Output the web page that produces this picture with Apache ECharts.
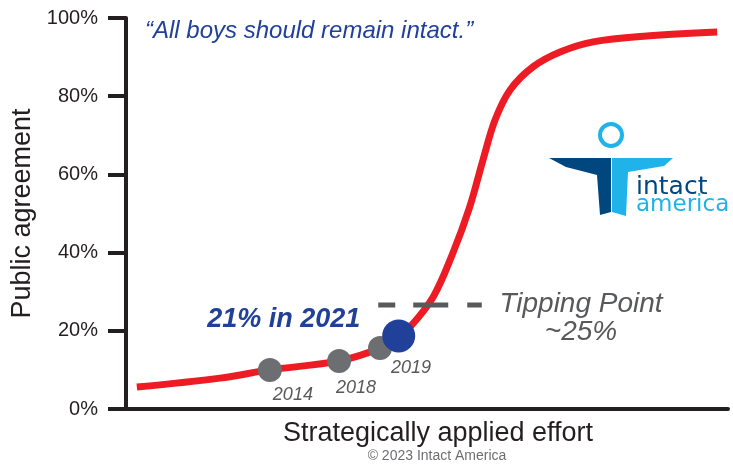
<!DOCTYPE html>
<html>
<head>
<meta charset="utf-8">
<script src="https://cdn.jsdelivr.net/npm/echarts@6/dist/echarts.min.js"></script>
<style>
  html, body { margin: 0; padding: 0; background: #fff; }
  #chart { width: 733px; height: 464px; }
</style>
</head>
<body>
<div id="chart"></div>
<script>
// S-curve of public agreement vs effort (x: effort 0-100, y: %)
var curveX = [1.8, 15.6, 23.9, 35.4, 42.2, 45.3, 47.2, 51.0, 54.3, 57.1, 59.3, 61.3, 63.8, 67.6, 72.1, 77.6, 86.5, 98.2];
var curveY = [5.6, 7.9, 10.0, 12.3, 15.6, 18.7, 21.0, 28.6, 39.9, 51.7, 63.7, 73.9, 81.6, 87.5, 91.3, 93.9, 95.4, 96.4];

// survey milestones sitting on the curve
var milestoneYears = ["2014", "2018", "2019", "2021"];
var milestoneX = [23.9, 35.4, 42.2, 45.3];
var milestoneY = [10.0, 12.3, 15.6, 18.7];
var latestShare = 21;

// tipping point marker
var tippingX = [41.9, 59.1];
var tippingY = [26.6, 26.6];

var yTicks = [0, 20, 40, 60, 80, 100];

var RED = "#ed1c24";
var GRAY = "#6d6e71";
var BLUE = "#21409a";
var INK = "#231f20";
var FONT = "Liberation Sans";

var chart = echarts.init(document.getElementById("chart"));

var curveData = curveX.map(function (x, i) {
  return [x, curveY[i]];
});

var dotData = milestoneX.map(function (x, i) {
  var latest = i === milestoneX.length - 1;
  return {
    value: [x, milestoneY[i]],
    symbolSize: latest ? 33 : 24,
    itemStyle: { color: latest ? BLUE : GRAY, opacity: 1 },
    label: latest
      ? {
          show: true,
          formatter: latestShare + "% in " + milestoneYears[i],
          position: "inside",
          offset: [-115, -16],
          fontSize: 27,
          fontStyle: "italic",
          fontWeight: "bold",
          color: BLUE,
        }
      : {
          show: true,
          formatter: milestoneYears[i],
          position: "inside",
          offset: [[23, 25], [17, 27], [31, 20]][i],
          fontSize: 18,
          fontStyle: "italic",
          color: "#58595b",
        },
  };
});

chart.setOption({
  animation: false,
  textStyle: { fontFamily: FONT },
  grid: {
    left: 126,
    right: 5,
    top: 18,
    bottom: 55,
  },
  xAxis: {
    type: "value",
    min: 0,
    max: 100,
    name: "Strategically applied effort",
    nameLocation: "middle",
    nameGap: 11,
    nameTextStyle: {
      fontSize: 27,
      color: INK,
      padding: [0, 0, 0, 22],
    },
    axisLine: { lineStyle: { color: INK, width: 4 } },
    axisTick: { show: false },
    axisLabel: { show: false },
    splitLine: { show: false },
  },
  yAxis: {
    type: "value",
    min: 0,
    max: 100,
    interval: 20,
    name: "Public agreement",
    nameLocation: "middle",
    nameGap: 79,
    nameTextStyle: { fontSize: 27, color: INK },
    axisLine: { show: true, lineStyle: { color: INK, width: 4 } },
    axisTick: {
      show: true,
      length: 18,
      lineStyle: { color: INK, width: 4 },
    },
    axisLabel: {
      margin: 28,
      fontSize: 20,
      color: INK,
      formatter: function (v) {
        return yTicks.indexOf(v) > -1 ? v + "%" : "";
      },
    },
    splitLine: { show: false },
  },
  series: [
    {
      name: "curve",
      type: "line",
      data: curveData,
      smooth: 0.35,
      symbol: "none",
      z: 2,
      lineStyle: { color: RED, width: 7 },
    },
    {
      name: "milestones",
      type: "scatter",
      data: dotData,
      z: 3,
    },
    {
      name: "tipping",
      type: "line",
      data: tippingX.map(function (x, i) {
        return [x, tippingY[i]];
      }),
      symbol: "none",
      z: 4,
      lineStyle: {
        color: "#58595b",
        width: 5,
        type: [17, 18, 35, 19, 15, 200],
      },
    },
  ],
  graphic: [
    {
      type: "text",
      left: 145,
      top: 19,
      style: {
        text: "\u201cAll boys should remain intact.\u201d",
        font: "italic 24px " + FONT,
        fill: BLUE,
      },
    },
    {
      type: "text",
      x: 581,
      y: 318,
      style: {
        text: "Tipping Point\n~25%",
        font: "italic 28px " + FONT,
        fill: "#58595b",
        align: "center",
        verticalAlign: "middle",
        lineHeight: 28,
      },
    },
    {
      type: "text",
      x: 437,
      y: 456,
      style: {
        text: "\u00a9 2023 Intact America",
        font: "14px " + FONT,
        fill: "#6d6e71",
        align: "center",
        verticalAlign: "middle",
      },
    },
    // logo
    {
      type: "group",
      children: [
        {
          type: "circle",
          shape: { cx: 611, cy: 135, r: 11 },
          style: { fill: "none", stroke: "#1fb3ea", lineWidth: 4 },
        },
        {
          type: "polygon",
          shape: {
            points: [[549, 158], [611, 158], [611, 212], [600, 215], [597, 175], [566, 167]],
          },
          style: { fill: "#00477f" },
        },
        {
          type: "polygon",
          shape: {
            points: [[612, 158], [673, 158], [664, 166], [628, 172], [626, 216], [612, 212]],
          },
          style: { fill: "#1fb3ea" },
        },
        {
          type: "text",
          x: 636,
          y: 187,
          style: {
            text: "intact",
            font: "500 25px 'DejaVu Sans'",
            fill: "#00477f",
            verticalAlign: "middle",
          },
        },
        {
          type: "text",
          x: 636,
          y: 205,
          style: {
            text: "america",
            font: "23px 'DejaVu Sans'",
            fill: "#1fb3ea",
            verticalAlign: "middle",
          },
        },
      ],
    },
  ],
});
</script>
</body>
</html>
